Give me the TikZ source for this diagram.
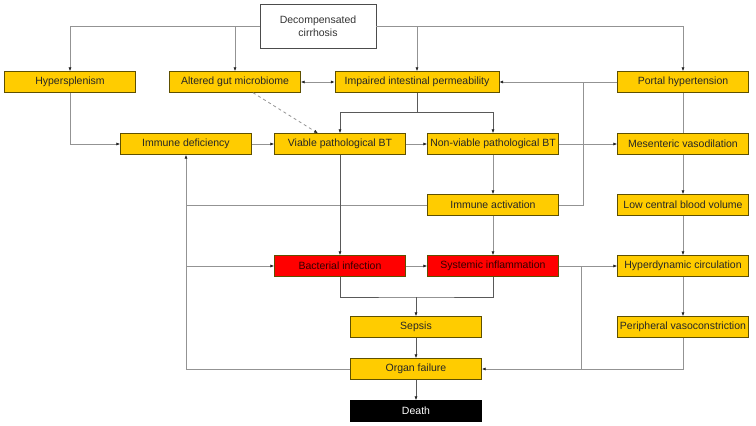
\documentclass[tikz,border=0pt]{standalone}
\usepackage{fontspec}
\setmainfont{Liberation Sans}
\usetikzlibrary{arrows.meta}
\definecolor{boxyellow}{HTML}{FFCC00}
\definecolor{boxred}{HTML}{FF0000}
\definecolor{boxline}{HTML}{5E5000}
\newcommand{\boxFont}[0]{\fontsize{10.5}{13.5}\selectfont}

\begin{document}
\begin{tikzpicture}[x=1pt,y=-1pt,>={Latex[length=4pt,width=3.2pt,color=black!85]}]
  \tikzset{box/.style={draw=boxline,fill=boxyellow,text=black!85,minimum width=131pt,minimum height=21pt,inner sep=0pt,font=\boxFont},
    redbox/.style={box,fill=boxred,text=black!80!red},
    link/.style={draw=gray!85,line width=0.8pt},
    darklink/.style={draw=black!65,line width=0.8pt}}
  \useasboundingbox (0,0) rectangle (756,426);
  % boxes
  \node[draw=black!70,fill=white,text=black!80,minimum width=116pt,minimum height=44pt,align=center,font=\boxFont] (DC) at (318,26) {Decompensated\\cirrhosis};
  \node[box] (HS) at (70,82) {Hypersplenism};
  \node[box] (AGM) at (235,82) {Altered gut microbiome};
  \node[box,minimum width=164pt] (IIP) at (417,82) {Impaired intestinal permeability};
  \node[box] (PH) at (683,82) {Portal hypertension};
  \node[box] (ID) at (186,144) {Immune deficiency};
  \node[box] (VBT) at (340,144) {Viable pathological BT};
  \node[box] (NVBT) at (493,144) {Non-viable pathological BT};
  \node[box] (MV) at (683,144) {Mesenteric vasodilation};
  \node[box] (IA) at (493,205) {Immune activation};
  \node[box] (LCBV) at (683,205) {Low central blood volume};
  \node[redbox] (BI) at (340,266) {Bacterial infection};
  \node[redbox] (SI) at (493,266) {Systemic inflammation};
  \node[box] (HC) at (683,266) {Hyperdynamic circulation};
  \node[box] (S) at (416,327) {Sepsis};
  \node[box] (PV) at (683,327) {Peripheral vasoconstriction};
  \node[box] (OF) at (416,369) {Organ failure};
  \node[box,draw=black,fill=black,text=white] (D) at (416,411) {Death};
  \coordinate (IA-1) at (583,205);
  \coordinate (IA-2) at (583,82);
  \coordinate (BT-1) at (416,297);
  \coordinate (SI-1) at (581,266);
  \coordinate (SI-2) at (581,369);
  % top row
  \draw[link,->] (DC.west) -| (HS.north);
  \draw[link,->] (DC.west) -| (AGM.north);
  \draw[link,->] (DC.east) -| (IIP.north);
  \draw[link,->] (DC.east) -| (PH.north);
  \draw[link,<->] (AGM) -- (IIP);
  \draw[link,->] (PH) -- (IIP);
  \draw[link] (IA.east) -- (IA-1) -- (IA-2);
  \draw[darklink,->] (IIP.south) -- ++(0,20) -| (VBT.north);
  \draw[darklink,->] (IIP.south) -- ++(0,20) -| (NVBT.north);
  \draw[link,dashed,->] ([xshift=18pt]AGM.south) -- ([xshift=-22pt]VBT.north);
  % middle
  \draw[link,->] (HS.south) |- (ID.west);
  \draw[link,->] (ID) -- (VBT);
  \draw[link,->] (VBT) -- (NVBT);
  \draw[link,->] (NVBT) -- (MV);
  \draw[link] (PH) -- (MV);
  \draw[link,->] (MV) -- (LCBV);
  \draw[link,->] (LCBV) -- (HC);
  \draw[link,->] (HC) -- (PV);
  \draw[link,->] (NVBT) -- (IA);
  \draw[link,->] (OF.west) -| (ID.south);
  \draw[link] (IA.west) -- (ID.south |- IA.west);
  \draw[link,->] (ID.south |- BI.west) -- (BI.west);
  \draw[darklink,->] (VBT) -- (BI);
  \draw[link,->] (IA) -- (SI);
  \draw[link,->] (BI) -- (SI);
  % bottom
  \draw[darklink] (BI.south) |- (BT-1) -| (SI.south);
  \draw[darklink,->] (BT-1) -- (S);
  \draw[darklink,->] (S) -- (OF);
  \draw[darklink,->] (OF) -- (D);
  \draw[link,->] (SI) -- (HC);
  \draw[link,->] (PV.south) |- (OF.east);
  \draw[link] (SI-1) -- (SI-2);
\end{tikzpicture}
\end{document}
